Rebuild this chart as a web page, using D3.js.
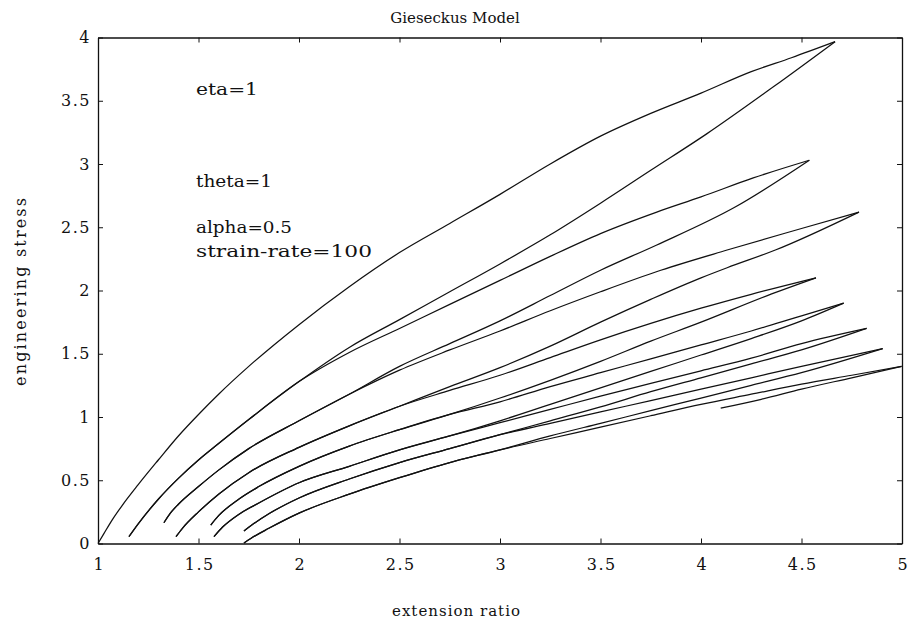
<!DOCTYPE html>
<html>
<head>
<meta charset="utf-8">
<script src="https://cdn.jsdelivr.net/npm/d3@7"></script>
<style>
  html, body { margin: 0; padding: 0; background: #fff; }
  svg { display: block; }
  text { font-family: "DejaVu Serif", "Liberation Serif", serif; fill: #111; }
</style>
</head>
<body>
<svg id="chart" width="911" height="624"></svg>
<script>
// Giesekus model: engineering stress vs. extension ratio, load/unload cycles.
// Each cycle starts from a shared trunk that later splits into the
// unloading branch of one cycle and the loading branch of the next.

const rise1 = [[1,0],[1.03,0.08],[1.07,0.185],[1.12,0.30],[1.2,0.465],[1.3,0.66],[1.4,0.85],[1.5,1.02],
  [1.6,1.18],[1.75,1.40],[2,1.73],[2.25,2.03],[2.5,2.30],[2.75,2.53],[3,2.76],[3.25,3.0],[3.5,3.22],
  [3.75,3.40],[4,3.56],[4.25,3.73],[4.45,3.84],[4.667,3.967]];

const trunk2 = [[1.154,0.054],[1.2,0.155],[1.3,0.35],[1.4,0.515],[1.5,0.66],[1.6,0.79],[1.75,0.98],[2,1.28]];
const fall1Tail = [[2.25,1.55],[2.5,1.77],[2.75,1.99],[3,2.21],[3.25,2.44],[3.5,2.69],[3.75,2.95],
  [4.03,3.24],[4.36,3.61],[4.667,3.967]];
const rise2Tail = [[2.25,1.51],[2.5,1.70],[2.75,1.89],[3,2.08],[3.25,2.27],[3.5,2.45],[3.78,2.62],
  [4,2.74],[4.26,2.89],[4.539,3.03]];

const trunk3 = [[1.328,0.164],[1.36,0.24],[1.4,0.31],[1.5,0.45],[1.6,0.58],[1.75,0.75],[2,0.97],[2.25,1.18]];
const fall2Tail = [[2.5,1.40],[2.75,1.58],[3,1.76],[3.25,1.96],[3.5,2.16],[3.78,2.36],[4.17,2.66],[4.539,3.03]];
const rise3Tail = [[2.5,1.37],[2.75,1.53],[3,1.68],[3.25,1.84],[3.5,1.99],[3.8,2.16],[4.13,2.32],[4.5,2.49],[4.786,2.62]];

const trunk4 = [[1.388,0.054],[1.42,0.12],[1.5,0.25],[1.6,0.39],[1.75,0.56],[2,0.76],[2.25,0.93],[2.5,1.085]];
const fall3Tail = [[2.75,1.24],[3,1.39],[3.25,1.56],[3.5,1.75],[3.75,1.93],[4,2.10],[4.13,2.18],[4.37,2.32],[4.786,2.62]];
const rise4Tail = [[2.75,1.21],[3,1.33],[3.25,1.47],[3.5,1.61],[3.75,1.74],[4,1.86],[4.25,1.97],[4.572,2.10]];

const trunk5 = [[1.561,0.146],[1.6,0.22],[1.7,0.35],[1.8,0.45],[2,0.61],[2.25,0.77],[2.5,0.90],[2.75,1.02]];
const fall4Tail = [[3,1.15],[3.25,1.29],[3.5,1.44],[3.75,1.60],[4,1.75],[4.33,1.96],[4.572,2.10]];
const rise5Tail = [[3,1.12],[3.25,1.24],[3.5,1.35],[3.75,1.46],[4,1.57],[4.25,1.68],[4.5,1.80],[4.71,1.90]];

const trunk6 = [[1.577,0.054],[1.62,0.13],[1.7,0.23],[1.8,0.32],[2,0.48],[2.25,0.61],[2.5,0.74],[2.75,0.85]];
const fall5Tail = [[3,0.97],[3.25,1.10],[3.5,1.23],[3.75,1.36],[4,1.49],[4.25,1.62],[4.5,1.76],[4.71,1.90]];
const rise6Tail = [[3,0.955],[3.25,1.06],[3.5,1.165],[3.75,1.265],[4,1.365],[4.25,1.465],[4.5,1.58],[4.824,1.70]];

const trunk7 = [[1.726,0.099],[1.76,0.14],[1.85,0.235],[2,0.36],[2.25,0.51],[2.5,0.64],[2.75,0.75],[3,0.86]];
const fall6Tail = [[3.25,0.97],[3.5,1.08],[3.75,1.20],[4,1.31],[4.25,1.42],[4.5,1.53],[4.824,1.70]];
const rise7Tail = [[3.25,0.95],[3.5,1.04],[3.75,1.13],[4,1.22],[4.25,1.31],[4.5,1.40],[4.904,1.54]];

const trunk8 = [[1.726,0.004],[1.76,0.04],[1.85,0.12],[2,0.24],[2.25,0.39],[2.5,0.52],[2.75,0.64],[3,0.74]];
const fall7Tail = [[3.25,0.85],[3.5,0.95],[3.75,1.05],[4,1.15],[4.25,1.25],[4.5,1.35],[4.904,1.54]];
const rise8Tail = [[3.25,0.83],[3.5,0.92],[3.75,1.01],[4,1.10],[4.25,1.18],[4.5,1.26],[4.75,1.33],[4.998,1.40]];

const fall8 = [[4.098,1.07],[4.3,1.14],[4.5,1.22],[4.75,1.31],[4.998,1.40]];

const xTicks = [1, 1.5, 2, 2.5, 3, 3.5, 4, 4.5, 5];
const xTickLabels = ["1", "1.5", "2", "2.5", "3", "3.5", "4", "4.5", "5"];
const yTicks = [0, 0.5, 1, 1.5, 2, 2.5, 3, 3.5, 4];
const yTickLabels = ["0", "0.5", "1", "1.5", "2", "2.5", "3", "3.5", "4"];

const notes = ["eta=1", "theta=1", "alpha=0.5", "strain-rate=100"];

// ---------------------------------------------------------------
const curves = [
  rise1,
  trunk2.concat(fall1Tail), trunk2.concat(rise2Tail),
  trunk3.concat(fall2Tail), trunk3.concat(rise3Tail),
  trunk4.concat(fall3Tail), trunk4.concat(rise4Tail),
  trunk5.concat(fall4Tail), trunk5.concat(rise5Tail),
  trunk6.concat(fall5Tail), trunk6.concat(rise6Tail),
  trunk7.concat(fall6Tail), trunk7.concat(rise7Tail),
  trunk8.concat(fall7Tail), trunk8.concat(rise8Tail),
  fall8
];

const svg = d3.select("#chart");
const m = { left: 98, right: 9, top: 37.5, bottom: 80.5 };
const W = 911, H = 624;
const x = d3.scaleLinear().domain([1, 5]).range([m.left, W - m.right]);
const y = d3.scaleLinear().domain([0, 4]).range([H - m.bottom, m.top]);

const fmtX = d => xTickLabels[xTicks.indexOf(d)];
const fmtY = d => yTickLabels[yTicks.indexOf(d)];

const axisStyle = g => {
  g.select(".domain").attr("stroke", "#111").attr("stroke-width", 1.3);
  g.selectAll(".tick line").attr("stroke", "#111").attr("stroke-width", 1);
  g.selectAll(".tick text").attr("fill", "#111").style("font-size", "16px")
    .style("font-family", '"DejaVu Serif", serif').style("letter-spacing", "1.5px");
};

svg.append("g").attr("transform", `translate(0,${y(0)})`)
  .call(d3.axisBottom(x).tickValues(xTicks).tickFormat(fmtX).tickSize(-5).tickSizeOuter(0).tickPadding(15))
  .call(axisStyle)
  .selectAll(".tick text").attr("dx", "0.75px");
svg.append("g").attr("transform", `translate(0,${y(4)})`)
  .call(d3.axisTop(x).tickValues(xTicks).tickFormat("").tickSize(-5).tickSizeOuter(0))
  .call(axisStyle);
svg.append("g").attr("transform", `translate(${x(1)},0)`)
  .call(d3.axisLeft(y).tickValues(yTicks).tickFormat(fmtY).tickSize(-5).tickSizeOuter(0).tickPadding(7))
  .call(axisStyle);
svg.append("g").attr("transform", `translate(${x(5)},0)`)
  .call(d3.axisRight(y).tickValues(yTicks).tickFormat("").tickSize(-5).tickSizeOuter(0))
  .call(axisStyle);

const line = d3.line().x(d => x(d[0])).y(d => y(d[1])).curve(d3.curveMonotoneX);

svg.append("g").selectAll("path").data(curves).join("path")
  .attr("d", line)
  .attr("fill", "none")
  .attr("stroke", "#111")
  .attr("stroke-width", 1.25)
  .attr("stroke-linejoin", "round");

// Titles and labels
svg.append("text").attr("x", 455).attr("y", 23).attr("text-anchor", "middle")
  .style("font-size", "15px").text("Gieseckus Model");
svg.append("text").attr("x", 456).attr("y", 616).attr("text-anchor", "middle")
  .attr("textLength", 128).attr("lengthAdjust", "spacing")
  .style("font-size", "15px").text("extension ratio");
svg.append("text").attr("transform", "translate(26,292) rotate(-90)").attr("text-anchor", "middle")
  .attr("textLength", 188).attr("lengthAdjust", "spacing")
  .style("font-size", "16px").text("engineering stress");

// Model parameters
const noteY = [95, 187, 233, 257];
const noteLen = [62, 76, 96, 176];
svg.append("g").selectAll("text").data(notes).join("text")
  .attr("x", 196).attr("y", (d, i) => noteY[i])
  .attr("textLength", (d, i) => noteLen[i]).attr("lengthAdjust", "spacingAndGlyphs")
  .style("font-size", "17px")
  .text(d => d);
</script>
</body>
</html>
